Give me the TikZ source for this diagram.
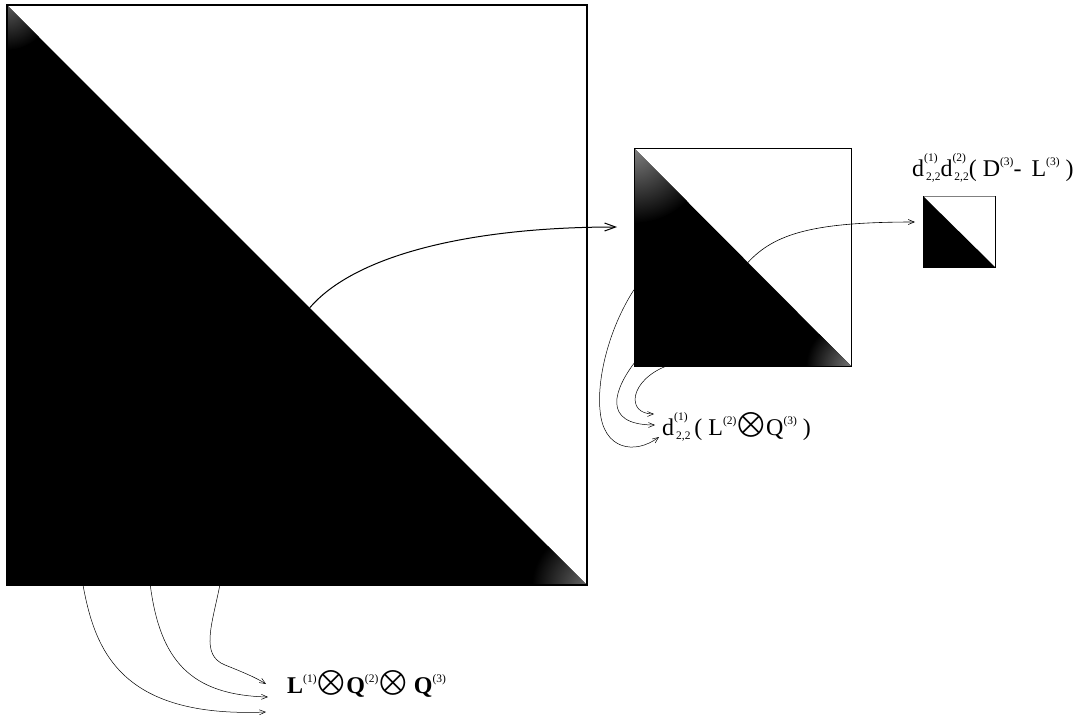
\documentclass[tikz,border=0pt]{standalone}
\usepackage{exscale}
\usepackage{fontspec}
\setmainfont{Liberation Serif}
\usetikzlibrary{arrows.meta,calc}
\newcommand{\MySp}[1]{\raisebox{0.45em}{\fontsize{11.5}{12}\selectfont\mdseries #1}}
\newcommand{\MySpSb}[2]{\makebox[0pt][l]{\raisebox{0.6em}{\fontsize{11.5}{12}\selectfont #1}}\raisebox{-0.2em}{\fontsize{11.5}{12}\selectfont #2}}
\newcommand{\MyOt}{\kern1pt\raisebox{0.14em}{$\bigotimes$}\kern1pt}
\begin{document}
\begin{tikzpicture}[x=1pt,y=-1pt,
  sq/.style={inner sep=0pt, outer sep=0pt, anchor=north west},
  conn/.style={line width=0.5pt, -{Straight Barb[length=6pt,width=5pt]}},
  bigconn/.style={line width=1pt, -{Straight Barb[length=11pt,width=8pt]}},
  lbl/.style={anchor=base west, inner sep=0pt, font=\fontsize{24}{28}\selectfont}]
\useasboundingbox (0,0) rectangle (1079,718);
% squares (named)
\node[sq, minimum width=580pt, minimum height=580pt] (big) at (7,5) {};
\node[sq, minimum width=217pt, minimum height=218pt] (med) at (634,148) {};
\node[sq, minimum width=72pt, minimum height=71pt] (small) at (923,196) {};
% big square fill
\fill (big.north west) -- (big.south west) -- (big.south east) -- cycle;
\begin{scope}
  \clip (big.north west) -- (big.south west) -- (big.south east) -- cycle;
  \shade[inner color=black!65, outer color=black] (big.north west) circle (45);
  \shade[inner color=black!60, outer color=black] (big.south east) circle (55);
\end{scope}
\draw[line width=2pt] (big.north west) rectangle (big.south east);
% medium square fill
\fill (med.north west) -- (med.south west) -- (med.south east) -- cycle;
\begin{scope}
  \clip (med.north west) -- (med.south west) -- (med.south east) -- cycle;
  \shade[inner color=black!50, outer color=black] (med.north west) circle (75);
  \shade[inner color=black!55, outer color=black] (med.south east) circle (45);
\end{scope}
\draw[line width=1pt] (med.north west) rectangle (med.south east);
% small square
\fill (small.north west) -- (small.south west) -- (small.south east) -- cycle;
\draw[line width=0.6pt, black!50] (small.north west) -- (small.north east);
\draw[line width=0.8pt] (small.north east) -- (small.south east) -- (small.south west) -- (small.north west);
% labels
\node[lbl] (ltop) at (912,176) {d\MySpSb{(1)}{\,2,2}d\MySpSb{(2)}{\,2,2}( D\MySp{(3)}- \,L\MySp{(3)} )};
\node[lbl] (lmid) at (662,435) {d\MySpSb{(1)}{\,2,2}\,( L\MySp{(2)}\MyOt Q\MySp{(3)} )};
\node[lbl, font=\fontsize{24}{28}\selectfont\bfseries] (lbot) at (287,693) {L\MySp{(1)}\MyOt Q\MySp{(2)}\MyOt\ Q\MySp{(3)}};
% connector start / end points
\coordinate (s1) at ($(big.north west)!0.522!(big.south east)$);
\coordinate (t1) at (617,227);
\coordinate (s2) at ($(med.north west)!0.525!(med.south east)$);
\coordinate (t2) at (915,222);
\coordinate (m1) at ($(med.north west)!0.65!(med.south west)$);
\coordinate (m2) at ($(med.south west)+(1,-4)$);
\coordinate (m3) at ($(med.south west)!0.15!(med.south east)$);
\coordinate (tm1) at (659,437);
\coordinate (tm2) at (655,425);
\coordinate (tm3) at (654,414);
\coordinate (b1) at ($(big.south west)!0.131!(big.south east)$);
\coordinate (b2) at ($(big.south west)!0.247!(big.south east)$);
\coordinate (b3) at ($(big.south west)!0.367!(big.south east)$);
\coordinate (tb1) at (266,712);
\coordinate (tb2) at (268,697);
\coordinate (tb3) at (266,684);
% connectors
\draw[bigconn] (s1) .. controls (355,255) and (470,227) .. (t1);
\draw[conn, line width=0.6pt] (s2) .. controls (775,233) and (815,222) .. (t2);
\draw[conn] (m1) .. controls (608,330) and (597,380) .. (600,410) .. controls (603,450) and (635,455) .. (tm1);
\draw[conn] (m2) .. controls (615,388) and (600,425) .. (tm2);
\draw[conn] (m3) .. controls (630,380) and (625,414) .. (tm3);
\draw[conn] (b1) .. controls (95,650) and (120,718) .. (tb1);
\draw[conn] (b2) .. controls (160,660) and (190,695) .. (tb2);
\draw[conn] (b3) .. controls (212,625) and (200,655) .. (225,665) .. controls (240,671) and (255,677) .. (tb3);
\end{tikzpicture}
\end{document}
